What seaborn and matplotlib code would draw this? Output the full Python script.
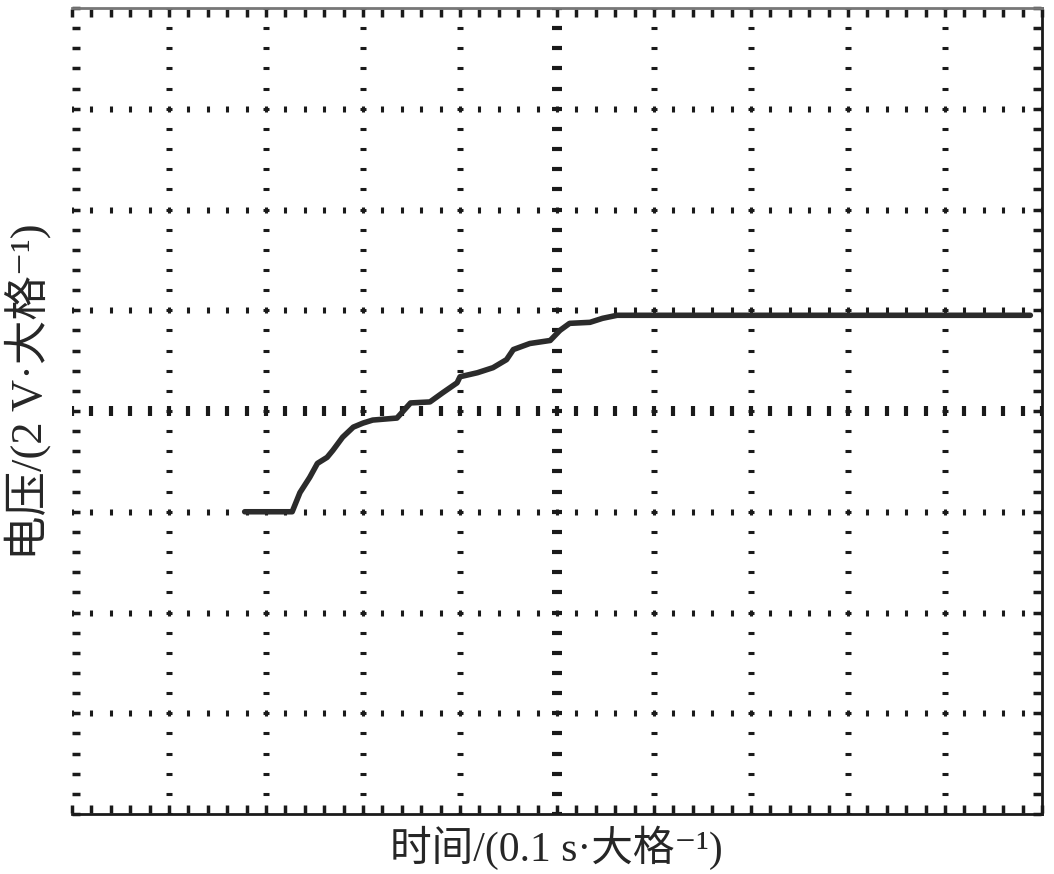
import numpy as np
import pandas as pd
import seaborn as sns
import matplotlib.pyplot as plt

# 示波器读数（单位：大格）
tiempo = [1.78, 2.27, 2.35, 2.45, 2.53, 2.63, 2.69, 2.79, 2.90, 3.00, 3.10, 3.35,
          3.49, 3.69, 3.82, 3.97, 4.00, 4.18, 4.34, 4.48, 4.55, 4.72, 4.93, 5.03,
          5.13, 5.34, 5.47, 5.62, 5.96, 9.88]
voltaje = [3.00, 3.00, 3.19, 3.34, 3.48, 3.54, 3.61, 3.74, 3.84, 3.88, 3.91, 3.93,
           4.08, 4.09, 4.18, 4.28, 4.34, 4.38, 4.43, 4.51, 4.61, 4.67, 4.70, 4.80,
           4.87, 4.88, 4.92, 4.95, 4.95, 4.95]
xlabel = '时间/(0.1 s·大格⁻¹)'
ylabel = '电压/(2 V·大格⁻¹)'

df = pd.DataFrame({'t': tiempo, 'v': voltaje})

sns.set_style('white')
plt.rcParams['font.family'] = ['Liberation Serif', 'Noto Sans CJK SC', 'DejaVu Sans']

fig = plt.figure(figsize=(10.54, 8.74), dpi=100)
ax = fig.add_axes([72 / 1054, 1 - 814 / 874, 970 / 1054, 806 / 874])
ax.set_xlim(0, 10)
ax.set_ylim(0, 8)

ink = '#1a1a1a'
xs = np.arange(0, 10.01, 0.2)
ys = np.arange(0, 8.01, 0.2)

# 网格点
for gx in range(1, 10):
    if gx == 5:
        continue
    ax.plot(np.full_like(ys, gx), ys, ls='none', marker='_', ms=4, mew=2.2, color=ink)
for gy in range(1, 8):
    if gy == 4:
        continue
    ax.plot(xs, np.full_like(xs, gy), ls='none', marker='|', ms=4, mew=2.2, color=ink)

# 中心刻度
ax.plot(np.full_like(ys, 5), ys, ls='none', marker='_', ms=7, mew=3, color=ink)
ax.plot(xs, np.full_like(xs, 4), ls='none', marker='|', ms=7, mew=3, color=ink)

# 边框刻度
ax.plot(np.full_like(ys, 0.04), ys, ls='none', marker='_', ms=6, mew=2.5, color=ink, clip_on=False)
ax.plot(np.full_like(ys, 9.95), ys, ls='none', marker='_', ms=6, mew=2.5, color=ink, clip_on=False)
ax.plot(xs, np.full_like(xs, 7.95), ls='none', marker='|', ms=6, mew=2.5, color=ink, clip_on=False)
ax.plot(xs, np.full_like(xs, 0.05), ls='none', marker='|', ms=6, mew=2.5, color=ink, clip_on=False)

# 波形
sns.lineplot(data=df, x='t', y='v', sort=False, estimator=None, color='#2b2b2b',
             linewidth=4, ax=ax)

ax.set_xticks([])
ax.set_yticks([])
ax.spines['left'].set_visible(False)
ax.spines['top'].set_color('#777777')
ax.spines['top'].set_linewidth(2)
ax.spines['right'].set_color(ink)
ax.spines['right'].set_linewidth(2)
ax.spines['bottom'].set_color(ink)
ax.spines['bottom'].set_linewidth(2)

ax.set_xlabel(xlabel, fontsize=30)
ax.set_ylabel(ylabel, fontsize=32)
ax.xaxis.set_label_coords(0.499, -0.015)
ax.yaxis.set_label_coords(-0.022, 0.524)

fig.savefig('out.png', dpi=100)
